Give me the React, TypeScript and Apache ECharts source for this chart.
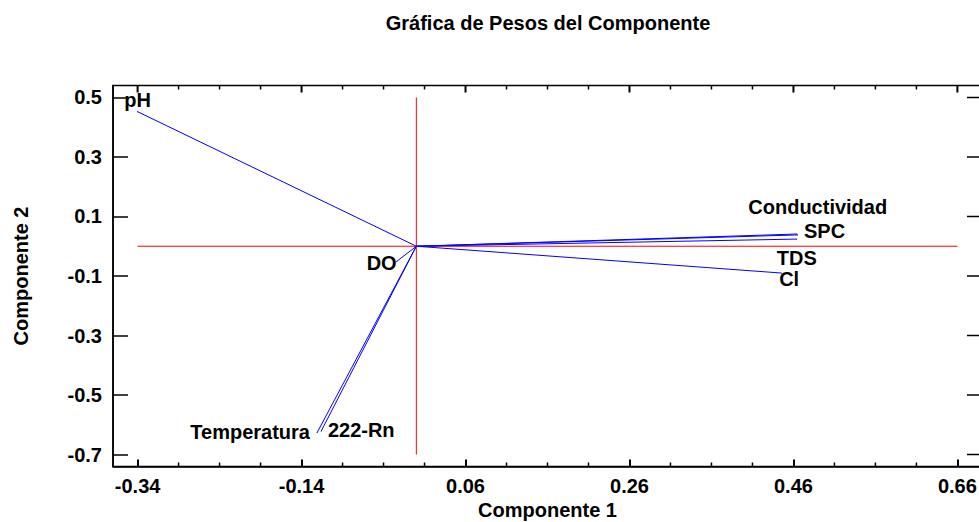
import React, { useEffect, useRef } from "react";
import * as echarts from "echarts";

// Component weights (loadings) for each variable
const variables = ["pH", "Conductividad", "SPC", "TDS", "Cl", "DO", "Temperatura", "222-Rn"];
const component1 = [-0.34, 0.464, 0.465, 0.464, 0.445, -0.024, -0.121, -0.116];
const component2 = [0.452, 0.041, 0.038, 0.024, -0.09, -0.051, -0.626, -0.621];

// Axis ticks
const xMajorTicks = [-0.34, -0.14, 0.06, 0.26, 0.46, 0.66];
const xMinorTicks = [-0.29, -0.24, -0.19, -0.09, -0.04, 0.01, 0.11, 0.16, 0.21, 0.31, 0.36, 0.41, 0.51, 0.56, 0.61];
const yMajorTicks = [-0.7, -0.5, -0.3, -0.1, 0.1, 0.3, 0.5];

// Reference cross through the origin
const horizontalGuide = [[-0.34, 0], [0.66, 0]];
const verticalGuide = [[0, 0.5], [0, -0.7]];

// Pixel offsets of each variable's label centre from the end of its vector
const labelOffsets: number[][] = [
  [0, -12],
  [21, -27],
  [27, -4],
  [0, 19],
  [8, 6],
  [-15, 2],
  [-67, -1],
  [40, -1],
];

const FONT = "'Liberation Sans', Arial, sans-serif";
const FONT_SIZE = 20;

const X_MIN = -0.37;
const X_MAX = 0.69;
const Y_MIN = -0.74;
const Y_MAX = 0.54;
const GRID = { left: 113, top: 85.5, width: 869, height: 381 };

// short vertical strokes along the top or bottom edge of the frame, separated by gaps
function edgeTicksX(values: number[], lengthPx: number, edge: "top" | "bottom") {
  const dy = (lengthPx * (Y_MAX - Y_MIN)) / GRID.height;
  const base = edge === "bottom" ? Y_MIN : Y_MAX;
  const tip = edge === "bottom" ? Y_MIN + dy : Y_MAX - dy;
  const pts: any[] = [];
  values.forEach((v) => pts.push([v, base], [v, tip], ["-", "-"]));
  return pts;
}

// short horizontal strokes along the right edge of the frame
function edgeTicksRight(values: number[], lengthPx: number) {
  const dx = (lengthPx * (X_MAX - X_MIN)) / GRID.width;
  const pts: any[] = [];
  values.forEach((v) => pts.push([X_MAX, v], [X_MAX - dx, v], ["-", "-"]));
  return pts;
}

export default function App() {
  const ref = useRef<HTMLDivElement>(null);

  useEffect(() => {
    if (!ref.current) return;
    const chart = echarts.init(ref.current, undefined, { renderer: "svg" });

    const textStyle = { fontFamily: FONT, fontWeight: "bold" as const, fontSize: FONT_SIZE, color: "#000" };

    const vectorSeries = variables.map((name, i) => ({
      type: "line" as const,
      name,
      data: [[0, 0], [component1[i], component2[i]]],
      symbol: "none",
      silent: true,
      lineStyle: { color: "#0000ff", width: 1 },
      z: 3,
    }));

    const tickSeries = (data: any[], width: number) => ({
      type: "line" as const,
      data,
      symbol: "none",
      lineStyle: { color: "#000", width },
      z: 5,
    });

    chart.setOption({
      animation: false,
      title: {
        text: "Gráfica de Pesos del Componente",
        left: 543,
        textAlign: "center",
        top: 8,
        textStyle: { ...textStyle },
      },
      // the grid border forms the frame around the plot
      grid: {
        ...GRID,
        outerBoundsMode: "none",
        show: true,
        borderColor: "#000",
        borderWidth: 1.5,
        backgroundColor: "transparent",
      },
      xAxis: {
        type: "value",
        min: X_MIN,
        max: X_MAX,
        splitLine: { show: false },
        axisLine: { show: true, onZero: false, lineStyle: { color: "#000", width: 1.5 } },
        axisTick: { show: true, inside: true, length: 7, customValues: xMajorTicks, lineStyle: { color: "#000", width: 2 } },
        axisLabel: { ...textStyle, margin: 9, customValues: xMajorTicks },
        name: "Componente 1",
        nameLocation: "middle",
        nameGap: 26,
        nameTextStyle: { ...textStyle },
      },
      yAxis: {
        type: "value",
        min: Y_MIN,
        max: Y_MAX,
        splitLine: { show: false },
        axisLine: { show: true, onZero: false, lineStyle: { color: "#000", width: 1.5 } },
        axisTick: { show: true, inside: true, length: 15, customValues: yMajorTicks, lineStyle: { color: "#000", width: 1.5 } },
        axisLabel: { ...textStyle, margin: 11, customValues: yMajorTicks, formatter: (v: number) => v.toFixed(1) },
        name: "Componente 2",
        nameLocation: "middle",
        nameGap: 82,
        nameTextStyle: { ...textStyle },
      },
      series: [
        {
          type: "line",
          data: horizontalGuide,
          symbol: "none",
          silent: true,
          lineStyle: { color: "#ff0000", width: 1 },
          z: 2,
        },
        {
          type: "line",
          data: verticalGuide,
          symbol: "none",
          silent: true,
          lineStyle: { color: "#ff0000", width: 1 },
          z: 2,
        },
        ...vectorSeries,
        tickSeries(edgeTicksX(xMajorTicks, 7, "top"), 2),
        tickSeries([...edgeTicksX(xMinorTicks, 4, "bottom"), ...edgeTicksX(xMinorTicks, 4, "top")], 1.5),
        tickSeries(edgeTicksRight(yMajorTicks, 15), 1.5),
        {
          type: "scatter",
          silent: true,
          symbolSize: 1,
          itemStyle: { color: "#0000ff", opacity: 1 },
          z: 4,
          data: variables.map((name, i) => ({
            name,
            value: [component1[i], component2[i]],
            label: {
              show: true,
              position: [0.5, 0.5],
              align: "center",
              verticalAlign: "middle",
              offset: labelOffsets[i],
              formatter: name,
              textBorderWidth: 0,
              ...textStyle,
            },
          })),
        },
      ],
    });

    return () => chart.dispose();
  }, []);

  return (
    <div
      ref={ref}
      style={{ position: "fixed", left: 0, top: 0, width: 979, height: 522, background: "#fff" }}
    />
  );
}
